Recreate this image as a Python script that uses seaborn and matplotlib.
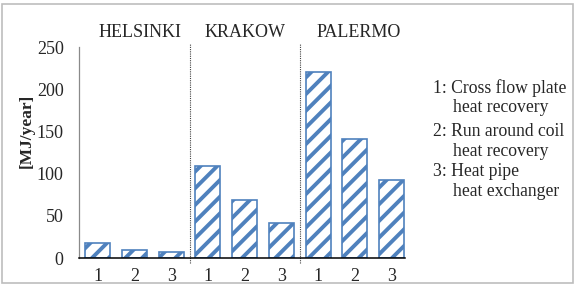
import numpy as np
import pandas as pd
import matplotlib
matplotlib.use("Agg")
import matplotlib.pyplot as plt
import seaborn as sns
from matplotlib.patches import Rectangle

# data
cities = ["HELSINKI", "KRAKOW", "PALERMO"]
units = ["1", "2", "3"]
helsinki = [18, 9, 7]
krakow = [109, 69, 41]
palermo = [221, 141, 93]
legend_lines = [
    ("1: Cross flow plate", 0),
    ("heat recovery", 1),
    ("2: Run around coil", 0),
    ("heat recovery", 1),
    ("3: Heat pipe", 0),
    ("heat exchanger", 1),
]

values = helsinki + krakow + palermo
df = pd.DataFrame({
    "pos": np.arange(len(values)),
    "unit": units * len(cities),
    "city": np.repeat(cities, len(units)),
    "value": values,
})

sns.set_style("white")
plt.rcParams["font.family"] = ["Liberation Serif", "DejaVu Serif"]
plt.rcParams["hatch.linewidth"] = 2.8

blue = "#4F81BD"
fig = plt.figure(figsize=(5.76, 2.87), dpi=100)
ax = fig.add_axes([0.137, 0.101, 0.566, 0.735])

sns.barplot(data=df, x="pos", y="value", order=list(df["pos"]), ax=ax,
            color="white", width=0.68)
for bar in ax.patches:
    bar.set_facecolor("white")
    bar.set_edgecolor(blue)
    bar.set_hatch("//")
    bar.set_linewidth(1.2)

ax.set_xlim(-0.51, 8.36)
ax.set_ylim(0, 250)
ax.set_yticks([0, 50, 100, 150, 200, 250])
ax.set_xticks(df["pos"])
ax.set_xticklabels(df["unit"])
ax.set_xlabel("")
ax.set_ylabel("")
ax.tick_params(axis="both", length=0, labelsize=13)
ax.tick_params(axis="y", pad=11)
ax.tick_params(axis="x", pad=7)

sns.despine(ax=ax, top=True, right=True)
ax.spines["left"].set_color("#8a8a8a")
ax.spines["left"].set_linewidth(0.9)
ax.spines["bottom"].set_color("black")
ax.spines["bottom"].set_linewidth(1.1)

# group separators
for xs in [2.5, 5.5]:
    ax.axvline(xs, ymin=-0.025, ymax=1.02, color="#444444", lw=0.8,
               ls=(0, (1, 1)), clip_on=False)

# city labels above the groups
for name, xc in zip(cities, [1.15, 4.0, 7.1]):
    ax.text(xc, 1.071, name, transform=ax.get_xaxis_transform(),
            ha="center", va="center", fontsize=13)

fig.text(27 / 576, 1 - 131 / 287, "[MJ/year]", rotation=90, ha="center",
         va="center", fontsize=12.5, fontweight="bold")

# legend text on the right
ys = [88, 108, 131, 152, 172, 192]
for (line, indent), y in zip(legend_lines, ys):
    x = 433 if indent == 0 else 453
    fig.text(x / 576, 1 - y / 287, line, ha="left", va="center", fontsize=12.7)

# outer frame
fig.patches.append(Rectangle((2 / 576, 4 / 287), 571 / 576, 279 / 287,
                             transform=fig.transFigure, fill=False,
                             edgecolor="#bdbdbd", lw=1.2))

fig.savefig("out.png", dpi=100)
plt.close(fig)
